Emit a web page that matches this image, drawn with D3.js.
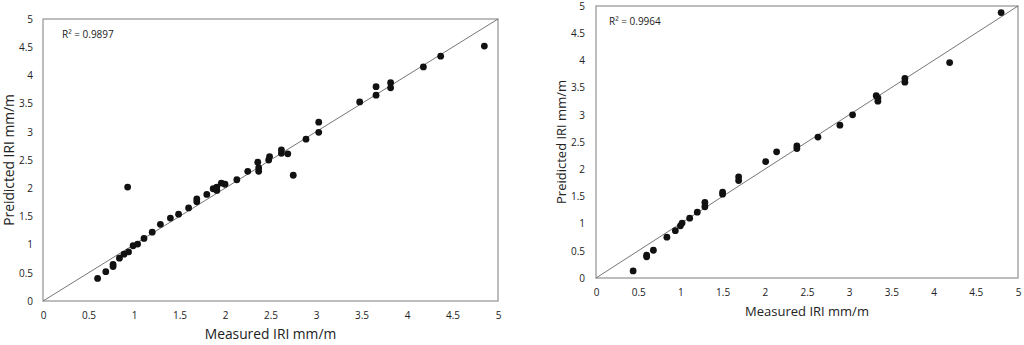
<!doctype html>
<html>
<head>
<meta charset="utf-8">
<script src="https://d3js.org/d3.v7.min.js"></script>
<style>
  body { margin: 0; background: #fff; }
  text { font-family: "Open Sans", "Liberation Sans", sans-serif; fill: #222; }
</style>
</head>
<body>
<svg id="svg1" width="1024" height="345"></svg>
<script>
// left panel: measured vs predicted
let leftX = [0.60, 0.69, 0.77, 0.77, 0.84, 0.89, 0.94, 0.93, 0.99, 1.04, 1.11, 1.20, 1.29, 1.40, 1.49, 1.60, 1.69, 1.69,
  1.80, 1.87, 1.91, 1.91, 1.96, 2.00, 2.13, 2.25, 2.36, 2.37, 2.37, 2.48, 2.49, 2.62, 2.62, 2.69, 2.75, 2.89, 3.03, 3.03,
  3.48, 3.66, 3.66, 3.82, 3.82, 4.18, 4.37, 4.85];
let leftY = [0.40, 0.52, 0.65, 0.61, 0.76, 0.83, 0.87, 2.02, 0.98, 1.01, 1.11, 1.22, 1.36, 1.47, 1.54, 1.65, 1.81, 1.76,
  1.89, 1.99, 1.96, 2.02, 2.09, 2.07, 2.15, 2.30, 2.46, 2.36, 2.30, 2.50, 2.56, 2.68, 2.62, 2.61, 2.23, 2.87, 3.17, 2.99,
  3.53, 3.65, 3.80, 3.87, 3.78, 4.15, 4.34, 4.52];

// right panel
let rightX = [0.44, 0.60, 0.60, 0.68, 0.84, 0.94, 1.00, 1.02, 1.11, 1.20, 1.29, 1.29, 1.50, 1.50, 1.69, 1.69,
  2.01, 2.14, 2.38, 2.38, 2.63, 2.89, 3.04, 3.32, 3.34, 3.34, 3.66, 3.66, 4.19, 4.80];
let rightY = [0.13, 0.42, 0.39, 0.51, 0.75, 0.87, 0.96, 1.01, 1.10, 1.21, 1.39, 1.31, 1.58, 1.54, 1.86, 1.79,
  2.14, 2.32, 2.43, 2.38, 2.59, 2.81, 3.00, 3.35, 3.31, 3.25, 3.67, 3.60, 3.96, 4.88];

let ticks = [0, 0.5, 1, 1.5, 2, 2.5, 3, 3.5, 4, 4.5, 5];
let xTitle = "Measured IRI mm/m";
let leftYTitle = "Preidicted IRI mm/m";
let rightYTitle = "Preidicted IRI  mm/m";
let leftR2 = "0.9897", rightR2 = "0.9964";

const svg = d3.select("#svg1");

function panel(cfg) {
  const g = svg.append("g");
  const x = d3.scaleLinear().domain([0, 5]).range([cfg.x0, cfg.x1]);
  const y = d3.scaleLinear().domain([0, 5]).range([cfg.y1, cfg.y0]);

  // frame
  g.append("rect")
    .attr("x", cfg.x0).attr("y", cfg.y0)
    .attr("width", cfg.x1 - cfg.x0).attr("height", cfg.y1 - cfg.y0)
    .attr("fill", "none").attr("stroke", "#9a9a9a").attr("stroke-width", 1.3);

  // axes (labels only, no tick marks)
  const xa = g.append("g").attr("transform", `translate(0,${cfg.y1})`)
    .call(d3.axisBottom(x).tickValues(ticks).tickSize(0).tickPadding(cfg.xPad).tickFormat(d3.format("")));
  const ya = g.append("g").attr("transform", `translate(${cfg.x0},0)`)
    .call(d3.axisLeft(y).tickValues(ticks).tickSize(0).tickPadding(cfg.yPad).tickFormat(d3.format("")));
  [xa, ya].forEach(a => {
    a.select(".domain").remove();
    a.selectAll(".tick text").attr("font-size", 10).attr("font-family", "Open Sans, sans-serif").attr("fill", "#222");
  });

  // 1:1 line
  g.append("line")
    .attr("x1", x(0)).attr("y1", y(0)).attr("x2", x(5)).attr("y2", y(5))
    .attr("stroke", "#666").attr("stroke-width", 0.9);

  // points
  g.selectAll("circle").data(cfg.xs)
    .join("circle")
    .attr("cx", d => x(d))
    .attr("cy", (d, i) => y(cfg.ys[i]))
    .attr("r", 3.4)
    .attr("fill", "#111");

  // R² label
  g.append("text")
    .attr("x", cfg.x0 + cfg.r2dx).attr("y", cfg.y0 + cfg.r2dy)
    .attr("font-size", 10)
    .text("R² = " + cfg.r2);

  // titles
  g.append("text")
    .attr("x", (cfg.x0 + cfg.x1) / 2).attr("y", cfg.xTitleY)
    .attr("text-anchor", "middle").attr("font-size", cfg.titleSize)
    .text(xTitle);
  g.append("text")
    .attr("transform", `translate(${cfg.yTitleX},${(cfg.y0 + cfg.y1) / 2}) rotate(-90)`)
    .attr("text-anchor", "middle").attr("font-size", cfg.titleSize)
    .text(cfg.yTitle);
}

panel({ x0: 43, x1: 498, y0: 19, y1: 301, xs: leftX, ys: leftY, r2: leftR2, r2dx: 19, r2dy: 19,
  xPad: 11, yPad: 10, xTitleY: 339, yTitleX: 14, yTitle: leftYTitle, titleSize: 13.8 });
panel({ x0: 596, x1: 1018, y0: 6, y1: 278, xs: rightX, ys: rightY, r2: rightR2, r2dx: 13, r2dy: 19,
  xPad: 11, yPad: 11, xTitleY: 316, yTitleX: 566, yTitle: rightYTitle, titleSize: 13 });
</script>
</body>
</html>
